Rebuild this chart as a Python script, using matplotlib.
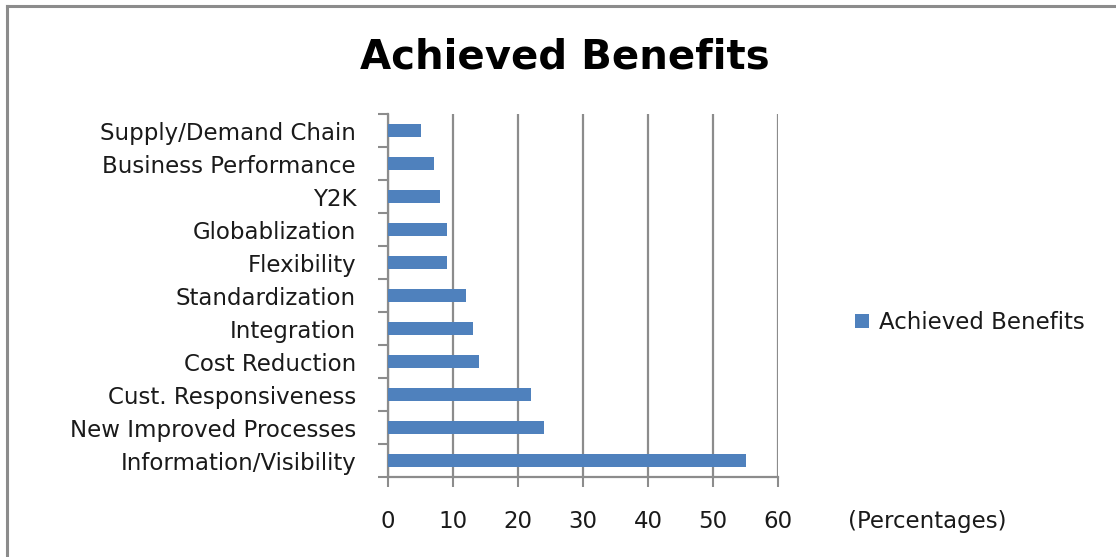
import matplotlib
matplotlib.use("Agg")
import matplotlib.pyplot as plt
from matplotlib.lines import Line2D
from matplotlib.patches import Patch

categories = [
    "Information/Visibility",
    "New Improved Processes",
    "Cust. Responsiveness",
    "Cost Reduction",
    "Integration",
    "Standardization",
    "Flexibility",
    "Globablization",
    "Y2K",
    "Business Performance",
    "Supply/Demand Chain",
]
values = [55, 24, 22, 14, 13, 12, 9, 9, 8, 7, 5]
x_ticks = [0, 10, 20, 30, 40, 50, 60]
series_name = "Achieved Benefits"

bar_color = "#4F81BD"
grid_color = "#8C8C8C"
text_color = "#1A1A1A"
label_font = "DejaVu Sans"
label_size = 16.5

fig = plt.figure(figsize=(11.16, 5.57), dpi=100)
ax = fig.add_axes([0.3477, 0.1436, 0.3495, 0.6517])

ypos = list(range(len(categories)))
ax.barh(ypos, values, height=0.42, color=bar_color, zorder=3)

ax.set_xlim(0, 60)
ax.set_ylim(-0.5, len(categories) - 0.5)
ax.set_xticks(x_ticks)
ax.set_xticklabels([str(t) for t in x_ticks], fontsize=label_size,
                   family=label_font, color=text_color)
ax.tick_params(axis="x", length=7, width=1.5, color=grid_color, pad=17)

# category labels centred on bars, tick marks on category boundaries
ax.set_yticks(ypos)
ax.set_yticklabels(categories, fontsize=label_size, family=label_font,
                   color=text_color)
ax.tick_params(axis="y", which="major", length=0, pad=23)
ax.set_yticks([i - 0.5 for i in range(len(categories) + 1)], minor=True)
ax.tick_params(axis="y", which="minor", length=7, width=1.5, color=grid_color)

ax.xaxis.grid(True, color=grid_color, linewidth=1.6, zorder=0)
ax.set_axisbelow(True)
for side in ("top", "right"):
    ax.spines[side].set_visible(False)
for side in ("left", "bottom"):
    ax.spines[side].set_color(grid_color)
    ax.spines[side].set_linewidth(1.6)

fig.text(0.506, 0.897, "Achieved Benefits", ha="center", va="center",
         fontsize=29, fontweight="bold", family="DejaVu Sans", color="black")

fig.text(0.8305, 0.064, "(Percentages)", ha="center", va="center",
         fontsize=label_size, family=label_font, color=text_color)

handle = Patch(facecolor=bar_color, edgecolor="none")
fig.legend([handle], [series_name], loc="center left",
           bbox_to_anchor=(0.748, 0.421), frameon=False,
           prop={"family": label_font, "size": label_size},
           handlelength=0.6, handleheight=0.6, handletextpad=0.45,
           labelcolor=text_color)

# chart area border
fig.add_artist(Line2D([0.0066, 0.0066], [0.0, 0.9893], transform=fig.transFigure,
                      color="#8C8C8C", linewidth=2.2))
fig.add_artist(Line2D([0.0066, 1.0], [0.9893, 0.9893], transform=fig.transFigure,
                      color="#8C8C8C", linewidth=2.2))

fig.savefig("out.png", dpi=100, facecolor="white")
